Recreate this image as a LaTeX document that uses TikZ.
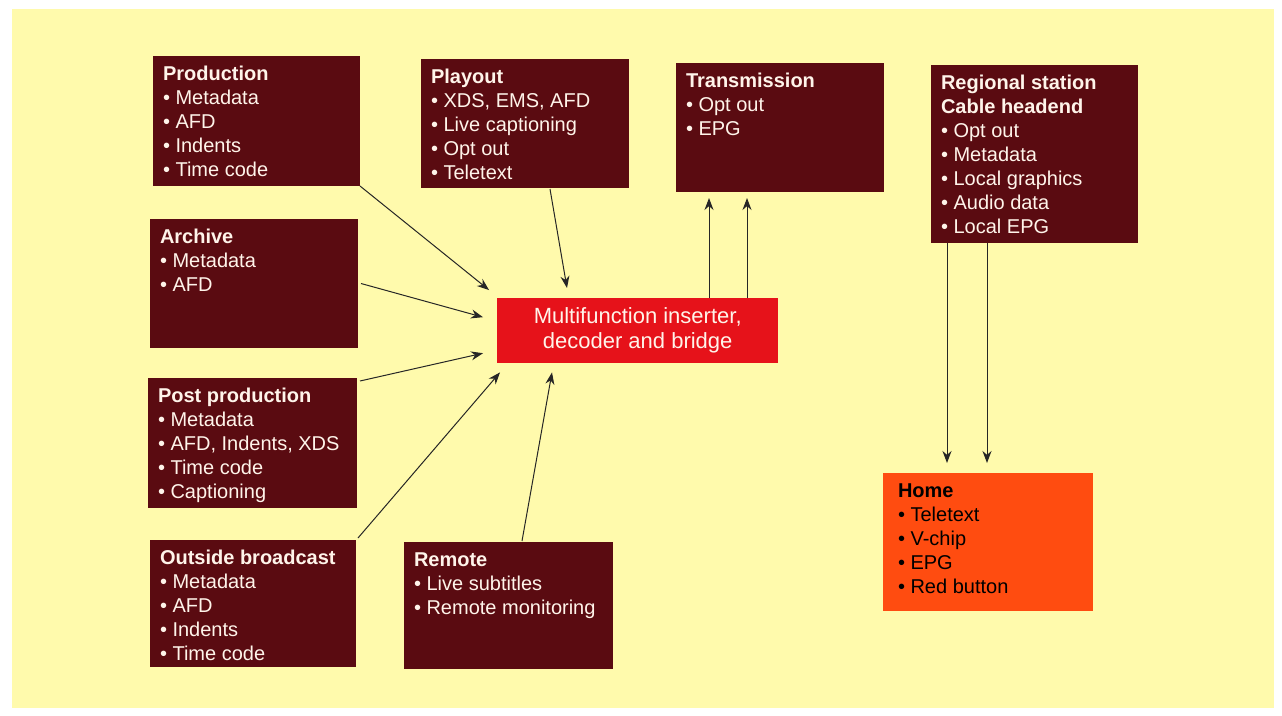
\documentclass[tikz,border=0pt]{standalone}
\usepackage{fontspec}
\setmainfont{Liberation Sans}
\usetikzlibrary{arrows.meta,calc}
\definecolor{bgyellow}{RGB}{255,250,172}
\definecolor{maroon}{RGB}{90,11,17}
\definecolor{mfred}{RGB}{230,18,26}
\definecolor{homeorange}{RGB}{255,76,16}
\definecolor{cream}{RGB}{255,244,234}
\newcommand\bxt[4][10pt]{\parbox[c][#3][t]{\dimexpr#2-#1-10pt\relax}{\fontsize{20}{24}\selectfont\rule{0pt}{24pt}#4}}
\newcommand\itm{\textbullet\ }
\tikzset{
  infobox/.style={fill=maroon, text=cream, inner sep=0pt, anchor=north west, outer sep=0pt},
  arr/.style={draw=black!85, line width=1pt, -{Stealth[length=12pt,width=9pt]}},
}
\begin{document}
\begin{tikzpicture}[x=1pt,y=-1pt]
\useasboundingbox (0,0) rectangle (1282,715);
\fill[white] (0,0) rectangle (1282,715);
\fill[bgyellow] (12,9) rectangle (1274,708);

% left column
\node[infobox, minimum width=207pt, minimum height=130pt] (prod) at (153,56)
  {\bxt{207pt}{130pt}{\textbf{Production}\\\itm Metadata\\\itm AFD\\\itm Indents\\\itm Time code}};
\node[infobox, minimum width=208pt, minimum height=129pt] (arch) at (150,219)
  {\bxt{208pt}{129pt}{\textbf{Archive}\\\itm Metadata\\\itm AFD}};
\node[infobox, minimum width=209pt, minimum height=130pt] (post) at (148,378)
  {\bxt{209pt}{130pt}{\textbf{Post production}\\\itm Metadata\\\itm AFD, Indents, XDS\\\itm Time code\\\itm Captioning}};
\node[infobox, minimum width=206pt, minimum height=127pt] (outb) at (150,540)
  {\bxt{206pt}{127pt}{\textbf{Outside broadcast}\\\itm Metadata\\\itm AFD\\\itm Indents\\\itm Time code}};

% middle
\node[infobox, minimum width=209pt, minimum height=127pt] (remote) at (404,542)
  {\bxt{209pt}{127pt}{\textbf{Remote}\\\itm Live subtitles\\\itm Remote monitoring}};
\node[infobox, minimum width=208pt, minimum height=129pt] (play) at (421,59)
  {\bxt{208pt}{129pt}{\textbf{Playout}\\\itm XDS, EMS, AFD\\\itm Live captioning\\\itm Opt out\\\itm Teletext}};
\node[infobox, minimum width=208pt, minimum height=129pt] (trans) at (676,63)
  {\bxt{208pt}{129pt}{\textbf{Transmission}\\\itm Opt out\\\itm EPG}};
\node[infobox, minimum width=207pt, minimum height=178pt] (reg) at (931,65)
  {\bxt{207pt}{178pt}{\textbf{Regional station}\\\textbf{Cable headend}\\\itm Opt out\\\itm Metadata\\\itm Local graphics\\\itm Audio data\\\itm Local EPG}};
\node[infobox, fill=homeorange, text=black, minimum width=210pt, minimum height=138pt] (home) at (883,473)
  {\bxt[20pt]{210pt}{138pt}{\textbf{Home}\\\itm Teletext\\\itm V-chip\\\itm EPG\\\itm Red button}};

\node[fill=mfred, text=cream, inner sep=0pt, anchor=north west, minimum width=281pt, minimum height=65pt,
  align=center, font=\fontsize{22}{25}\selectfont] (mf) at (497,298)
  {Multifunction inserter,\\decoder and bridge};

% connectors into the inserter
\draw[arr] (prod.south east) -- ($(mf.north west)+(-8,-8)$);
\draw[arr] ($(play.south)+(25,1)$) -- ($(mf.north west)+(70,-10)$);
\draw[arr] ($(arch.east)+(3,0)$) -- ($(mf.west)+(-14,-13.5)$);
\draw[arr] ($(post.north east)+(3,3)$) -- ($(mf.west)+(-14,22.5)$);
\draw[arr] ($(outb.north east)+(2,-2)$) -- ($(mf.south west)+(3,9)$);
\draw[arr] ($(remote.north)+(13.5,-1)$) -- ($(mf.south west)+(55,9)$);
% inserter to transmission
\draw[arr] ($(mf.north west)+(212,0)$) -- ($(trans.south west)+(33,6)$);
\draw[arr] ($(mf.north west)+(250,0)$) -- ($(trans.south west)+(71,6)$);
% regional to home
\draw[arr] ($(reg.south west)+(16,0)$) -- ($(home.north west)+(64,-10)$);
\draw[arr] ($(reg.south west)+(56,0)$) -- ($(home.north west)+(104,-10)$);
\end{tikzpicture}
\end{document}
